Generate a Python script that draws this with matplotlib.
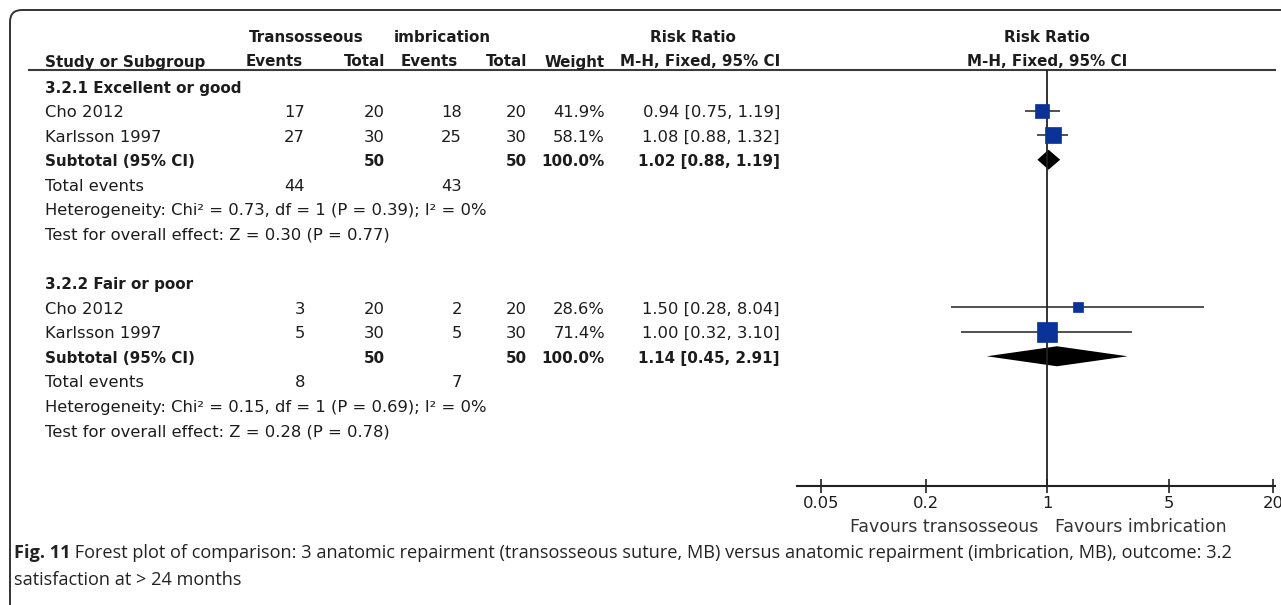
import matplotlib
matplotlib.use('Agg')
import matplotlib.pyplot as plt
from matplotlib.patches import FancyBboxPatch

# data
groups = ['3.2.1 Excellent or good', '3.2.2 Fair or poor']
study_names = ['Cho 2012', 'Karlsson 1997']
trans_events = [[17, 27], [3, 5]]
trans_total = [[20, 30], [20, 30]]
imb_events = [[18, 25], [2, 5]]
imb_total = [[20, 30], [20, 30]]
weights = [[41.9, 58.1], [28.6, 71.4]]
rr = [[0.94, 1.08], [1.50, 1.00]]
ci_low = [[0.75, 0.88], [0.28, 0.32]]
ci_high = [[1.19, 1.32], [8.04, 3.10]]
sub_trans_total = [50, 50]
sub_imb_total = [50, 50]
sub_rr = [1.02, 1.14]
sub_low = [0.88, 0.45]
sub_high = [1.19, 2.91]
total_ev_trans = [44, 8]
total_ev_imb = [43, 7]
heterogeneity = ['Heterogeneity: Chi\u00b2 = 0.73, df = 1 (P = 0.39); I\u00b2 = 0%',
                 'Heterogeneity: Chi\u00b2 = 0.15, df = 1 (P = 0.69); I\u00b2 = 0%']
overall = ['Test for overall effect: Z = 0.30 (P = 0.77)',
           'Test for overall effect: Z = 0.28 (P = 0.78)']
tick_values = [0.05, 0.2, 1, 5, 20]
tick_labels = ['0.05', '0.2', '1', '5', '20']
caption_bold = 'Fig. 11'
caption_1 = ' Forest plot of comparison: 3 anatomic repairment (transosseous suture, MB) versus anatomic repairment (imbrication, MB), outcome: 3.2'
caption_2 = 'satisfaction at > 24 months'

W, H = 1281, 605
fig = plt.figure(figsize=(W / 100, H / 100), dpi=100)
page = fig.add_axes([0, 0, 1, 1])
page.set_xlim(0, W)
page.set_ylim(H, 0)
page.axis('off')

txt = '#1c1c1c'
fs = 11.8    # regular table text
bfs = 10.9   # bold table text
font = 'DejaVu Sans'

# frame with rounded corner
page.add_patch(FancyBboxPatch((10, 10), 1400, 700, boxstyle='round,pad=0,rounding_size=12',
                              fill=False, lw=1.4, ec='#333333'))

# headers
page.text(306, 37, 'Transosseous', ha='center', va='center', fontsize=bfs, fontweight='bold', family=font, color=txt)
page.text(442, 37, 'imbrication', ha='center', va='center', fontsize=bfs, fontweight='bold', family=font, color=txt)
page.text(693, 37, 'Risk Ratio', ha='center', va='center', fontsize=bfs, fontweight='bold', family=font, color=txt)
page.text(1047, 37, 'Risk Ratio', ha='center', va='center', fontsize=bfs, fontweight='bold', family=font, color=txt)
hdr = [('Study or Subgroup', 45, 'left'), ('Events', 303, 'right'), ('Total', 385, 'right'),
       ('Events', 458, 'right'), ('Total', 527, 'right'), ('Weight', 605, 'right'),
       ('M-H, Fixed, 95% CI', 780, 'right'), ('M-H, Fixed, 95% CI', 1047, 'center')]
for s, x, ha in hdr:
    page.text(x, 62, s, ha=ha, va='center', fontsize=bfs, fontweight='bold', family=font, color=txt)
page.plot([29, 1275], [70, 70], color='#3a3a3a', lw=1.5)

# column positions
x_name, x_et, x_tt, x_ec, x_tc, x_w, x_ci = 45, 305, 385, 462, 527, 605, 780
y0, row_h = 88, 24.57

def row_y(i):
    return y0 + i * row_h

# forest panel, y data in page pixels
ax_top, ax_bot, ax_left, ax_right = 70, 486, 797, 1275
fx = fig.add_axes([ax_left / W, 1 - ax_bot / H, (ax_right - ax_left) / W, (ax_bot - ax_top) / H])
fx.set_xscale('log')
fx.set_xlim(0.0364, 20.5)
fx.set_ylim(ax_bot, ax_top)
fx.patch.set_alpha(0)
for sp in ['top', 'left', 'right']:
    fx.spines[sp].set_visible(False)
fx.spines['bottom'].set_linewidth(1.5)
fx.spines['bottom'].set_color('#222222')
fx.set_yticks([])
fx.set_xticks(tick_values)
fx.set_xticklabels(tick_labels)
fx.minorticks_off()
fx.tick_params(axis='x', direction='inout', length=10, width=1.2, color='#222222',
               labelsize=fs, labelcolor=txt, pad=2)
for lab in fx.get_xticklabels():
    lab.set_family(font)
fx.axvline(1, color='#222222', lw=1.3)

blue = '#0a3299'
for g in range(len(groups)):
    base = g * 8
    page.text(x_name, row_y(base), groups[g], ha='left', va='center', fontsize=bfs, fontweight='bold', family=font, color=txt)
    for k in range(len(study_names)):
        y = row_y(base + 1 + k)
        vals = [(study_names[k], x_name, 'left'), (str(trans_events[g][k]), x_et, 'right'),
                (str(trans_total[g][k]), x_tt, 'right'), (str(imb_events[g][k]), x_ec, 'right'),
                (str(imb_total[g][k]), x_tc, 'right'), ('%.1f%%' % weights[g][k], x_w, 'right'),
                ('%.2f [%.2f, %.2f]' % (rr[g][k], ci_low[g][k], ci_high[g][k]), x_ci, 'right')]
        for s, x, ha in vals:
            page.text(x, y, s, ha=ha, va='center', fontsize=fs, family=font, color=txt)
        my = y - 2
        fx.hlines(my, ci_low[g][k], ci_high[g][k], color='#222222', lw=1.1)
        side = 3 + 0.24 * weights[g][k]
        fx.plot(rr[g][k], my, 's', ms=side * 0.72, color=blue, mec=blue, mew=0.5)
    y = row_y(base + 3)
    sub = [('Subtotal (95% CI)', x_name, 'left'), (str(sub_trans_total[g]), x_tt, 'right'),
           (str(sub_imb_total[g]), x_tc, 'right'), ('100.0%', x_w, 'right'),
           ('%.2f [%.2f, %.2f]' % (sub_rr[g], sub_low[g], sub_high[g]), x_ci, 'right')]
    for s, x, ha in sub:
        page.text(x, y, s, ha=ha, va='center', fontsize=bfs, fontweight='bold', family=font, color=txt)
    my = y - 2
    fx.fill([sub_low[g], sub_rr[g], sub_high[g], sub_rr[g]], [my, my - 10, my, my + 10],
            color='black', lw=0)
    y = row_y(base + 4)
    page.text(x_name, y, 'Total events', ha='left', va='center', fontsize=fs, family=font, color=txt)
    page.text(x_et, y, str(total_ev_trans[g]), ha='right', va='center', fontsize=fs, family=font, color=txt)
    page.text(x_ec, y, str(total_ev_imb[g]), ha='right', va='center', fontsize=fs, family=font, color=txt)
    page.text(x_name, row_y(base + 5), heterogeneity[g], ha='left', va='center', fontsize=fs, family=font, color=txt)
    page.text(x_name, row_y(base + 6), overall[g], ha='left', va='center', fontsize=fs, family=font, color=txt)

page.text(1038, 527, 'Favours transosseous', ha='right', va='center', fontsize=12.5, family=font, color='#333333')
page.text(1055, 527, 'Favours imbrication', ha='left', va='center', fontsize=12.5, family=font, color='#333333')

# caption
cap_fs = 13.05
t = page.text(14, 553, caption_bold, ha='left', va='center', fontsize=cap_fs, fontweight='bold',
              family='Open Sans', color='#222222')
fig.canvas.draw()
bb = t.get_window_extent()
page.text(14 + bb.width, 553, caption_1, ha='left', va='center', fontsize=cap_fs,
          family='Open Sans', color='#222222')
page.text(14, 580, caption_2, ha='left', va='center', fontsize=cap_fs, family='Open Sans', color='#222222')

fig.savefig('out.png', dpi=100)
